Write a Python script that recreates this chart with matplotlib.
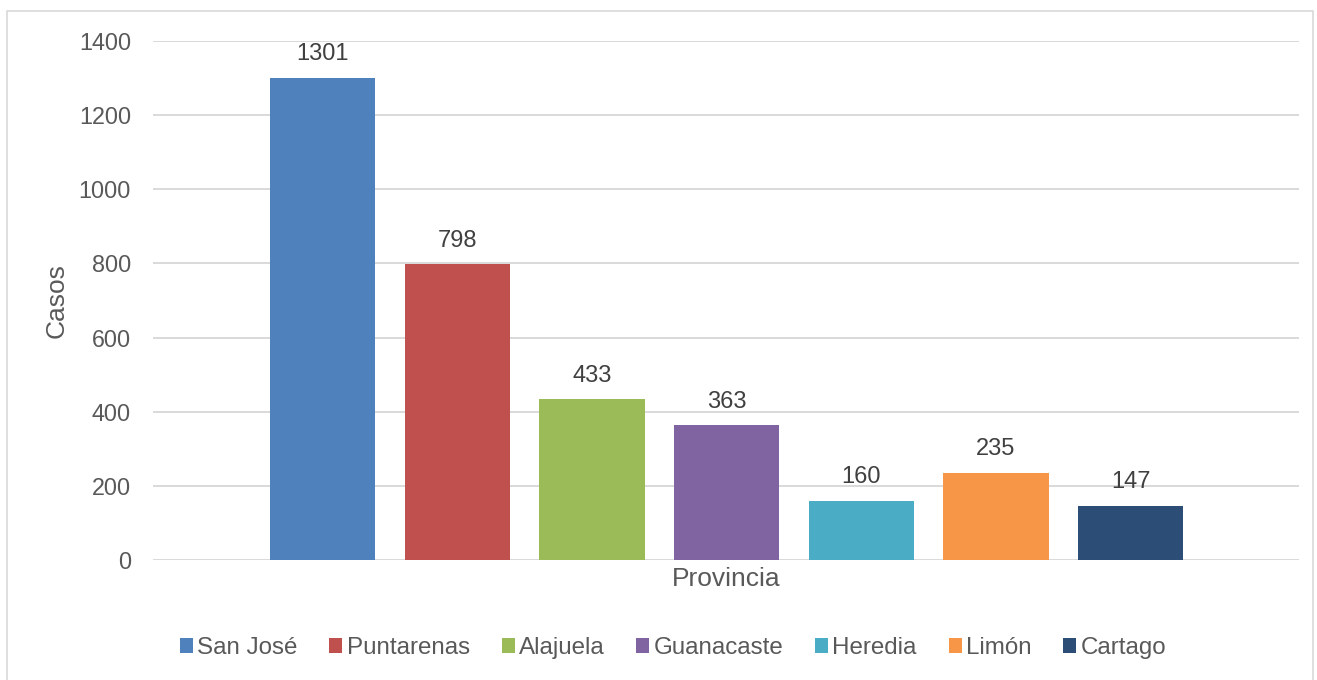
import matplotlib
matplotlib.use('Agg')
from matplotlib import pyplot as plt
from matplotlib.patches import Rectangle

provincias = ['San José', 'Puntarenas', 'Alajuela', 'Guanacaste', 'Heredia', 'Limón', 'Cartago']
casos = [1301, 798, 433, 363, 160, 235, 147]
colores = ['#4F81BD', '#C0504D', '#9BBB59', '#8064A2', '#4BACC6', '#F79646', '#2C4D75']
yticks = [0, 200, 400, 600, 800, 1000, 1200, 1400]

plt.rcParams['font.family'] = ['Liberation Sans', 'DejaVu Sans']

W, H = 1317, 680
fig = plt.figure(figsize=(W / 100, H / 100), dpi=100)
ax = fig.add_axes([153 / W, 1 - 560 / H, (1299 - 153) / W, (560 - 41) / H])

# each province is its own series inside one category, like the Excel chart
for i, (nombre, valor, color) in enumerate(zip(provincias, casos, colores)):
    ax.bar(i, valor, width=0.784, color=color, label=nombre, zorder=3)
    ax.annotate(str(valor), (i, valor), xytext=(0, 9), textcoords='offset points',
                ha='center', va='bottom', fontsize=17, color='#404040')

ax.set_xlim(-1.26, 7.25)
ax.set_ylim(0, 1400)
ax.set_yticks(yticks)
ax.set_xticks([])
ax.tick_params(axis='y', length=0, labelsize=16.8, labelcolor='#595959', pad=15.8)
ax.grid(axis='y', color='#D9D9D9', linewidth=1.4, zorder=0)
for s in ax.spines.values():
    s.set_visible(False)

ax.set_xlabel('Provincia', fontsize=19, color='#595959', labelpad=5)
ax.set_ylabel('Casos', fontsize=19, color='#595959')
ax.yaxis.set_label_coords((69 - 153) / 1146, 0.5)

leg = ax.legend(loc='center', bbox_to_anchor=((673 - 153) / 1146, (560 - 648) / (560 - 41)), ncol=7,
                frameon=False, fontsize=17.4, handlelength=0.54, handleheight=0.54,
                handletextpad=0.17, columnspacing=1.32, borderpad=0)
for t in leg.get_texts():
    t.set_color('#595959')

# light chart border
fig.patches.append(Rectangle((7 / W, -0.01), (1313 - 7) / W, 1 - 11 / H + 0.01,
                             transform=fig.transFigure, fill=False,
                             edgecolor='#D9D9D9', linewidth=1.2))

fig.savefig('out.png', dpi=100, facecolor='white')
